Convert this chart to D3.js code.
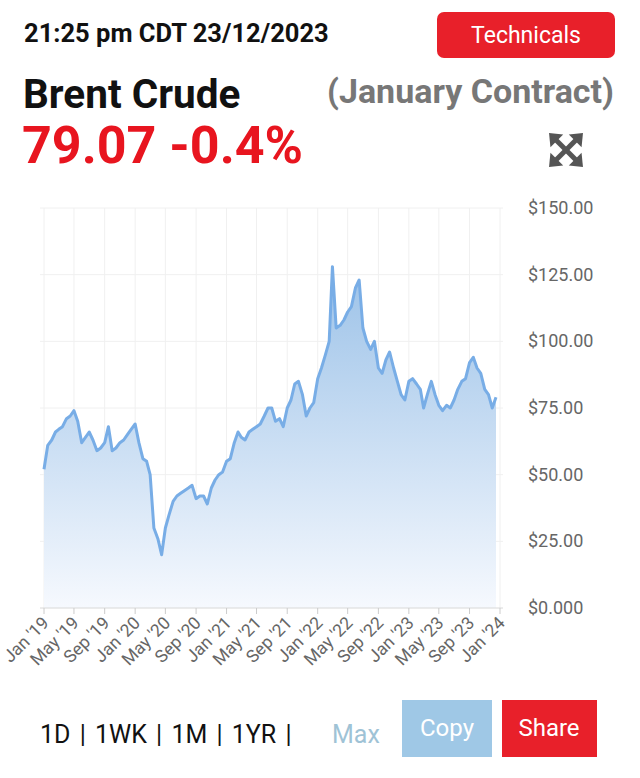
<!DOCTYPE html>
<html><head><meta charset="utf-8">
<script src="https://cdn.jsdelivr.net/npm/d3@7"></script>
<style>body{margin:0;background:#fff;font-family:Roboto,sans-serif}</style>
</head><body><svg id="c" width="640" height="778"></svg>
<script>
// semi-monthly closes Jan 2019 – Dec 2023
const prices = [
 52,61, 63,66, 67,68, 71,72, 74,70, 62,64, 66,63, 59,60, 62,68, 59,60, 62,63, 65,67,
 69,62, 56,55, 50,30, 26,20, 30,35, 40,42, 43,44, 45,46, 41,42, 42,39, 45,48, 50,51,
 55,56, 62,66, 64,63, 66,67, 68,69, 72,75, 75,70, 71,68, 75,78, 84,85, 80,72, 75,77,
 86,90, 95,100, 128,105, 106,108, 111,113, 120,123, 105,100, 97,100, 90,88, 93,96, 90,85, 80,78,
 85,86, 84,82, 75,80, 85,80, 76,74, 76,75, 78,82, 85,86, 92,94, 90,88, 82,80, 75,79
];
const yTicks = [0,25,50,75,100,125,150];
const yTickLabels = ["$0.000","$25.00","$50.00","$75.00","$100.00","$125.00","$150.00"];
const xTickDates = ["2019-01","2019-05","2019-09","2020-01","2020-05","2020-09","2021-01","2021-05","2021-09","2022-01","2022-05","2022-09","2023-01","2023-05","2023-09","2024-01"];
const xTickLabels = ["Jan '19","May '19","Sep '19","Jan '20","May '20","Sep '20","Jan '21","May '21","Sep '21","Jan '22","May '22","Sep '22","Jan '23","May '23","Sep '23","Jan '24"];

const svg = d3.select("#c");
const pm = d3.timeParse("%Y-%m");
const data = prices.map((v,i)=>({d:new Date(2019, Math.floor(i/2), i%2? 16:1), v}));
const x = d3.scaleTime().domain([new Date(2019,0,1), new Date(2024,0,1)]).range([44,500]);
const y = d3.scaleLinear().domain([0,150]).range([608,208]);

svg.append("g").selectAll("line").data(xTickDates).join("line")
 .attr("x1",d=>x(pm(d))).attr("x2",d=>x(pm(d))).attr("y1",208).attr("y2",608)
 .attr("stroke","#f0f0f0");
svg.append("g").selectAll("line").data(yTicks.slice(1)).join("line")
 .attr("x1",40).attr("x2",503).attr("y1",d=>y(d)).attr("y2",d=>y(d)).attr("stroke","#f0f0f0");

const defs = svg.append("defs");
const g = defs.append("linearGradient").attr("id","gr").attr("x1",0).attr("x2",0).attr("y1",0).attr("y2",1);
g.append("stop").attr("offset","0%").attr("stop-color","#9cc2e8");
g.append("stop").attr("offset","100%").attr("stop-color","#f6f9fe");
svg.append("path").datum(data).attr("fill","url(#gr)")
 .attr("d",d3.area().x(d=>x(d.d)).y0(608).y1(d=>y(d.v)));
svg.append("path").datum(data).attr("fill","none").attr("stroke","#78ade6").attr("stroke-width",3).attr("stroke-linejoin","round")
 .attr("d",d3.line().x(d=>x(d.d)).y(d=>y(d.v)));

svg.append("line").attr("x1",40).attr("x2",503).attr("y1",608).attr("y2",608).attr("stroke","#d8d8d8");
const xt = svg.append("g").selectAll("g").data(xTickDates).join("g").attr("transform",(d)=>`translate(${x(pm(d))},608)`);
xt.append("line").attr("y2",6).attr("stroke","#ccc");
xt.append("text").text((d,i)=>xTickLabels[i]).attr("transform","translate(6,16) rotate(-45)")
 .attr("text-anchor","end").attr("font-size",17.5).attr("fill","#666");
svg.append("g").selectAll("text").data(yTicks).join("text")
 .attr("x",528).attr("y",d=>y(d)+6).text((d,i)=>yTickLabels[i]).attr("font-size",18).attr("fill","#666");

svg.append("text").attr("x",24).attr("y",42).text("21:25 pm CDT 23/12/2023").attr("font-size",25.5).attr("font-weight","bold").attr("fill","#111");
svg.append("rect").attr("x",437).attr("y",12).attr("width",178).attr("height",46).attr("rx",7).attr("fill","#e8202a");
svg.append("text").attr("x",526).attr("y",43).attr("text-anchor","middle").text("Technicals").attr("font-size",23).attr("fill","#fff");
svg.append("text").attr("x",23).attr("y",108).text("Brent Crude").attr("font-size",40.5).attr("font-weight","bold").attr("fill","#111");
svg.append("text").attr("x",614).attr("y",103).attr("text-anchor","end").text("(January Contract)").attr("font-size",34).attr("font-weight","bold").attr("fill","#777");
svg.append("text").attr("x",22).attr("y",163).text("79.07 -0.4%").attr("font-size",52).attr("font-weight","bold").attr("fill","#e8151f");
const ic = svg.append("g").attr("transform","translate(566,150)").attr("fill","#555").attr("stroke","#555");
[45,135,225,315].forEach(a=>{
 const r = ic.append("g").attr("transform",`rotate(${a})`);
 r.append("line").attr("x1",0).attr("y1",0).attr("x2",0).attr("y2",-18).attr("stroke-width",5);
 r.append("path").attr("d","M-9,-13 L0,-24 L9,-13 Z").attr("stroke","none");
});
svg.append("text").attr("x",40).attr("y",743).text("1D | 1WK | 1M | 1YR |").attr("font-size",25).attr("fill","#111").attr("word-spacing",3);
svg.append("text").attr("x",332).attr("y",743).text("Max").attr("font-size",25).attr("fill","#9fc3d6");
svg.append("rect").attr("x",402).attr("y",700).attr("width",90).attr("height",57).attr("fill","#9fc8e6");
svg.append("text").attr("x",447).attr("y",736).attr("text-anchor","middle").text("Copy").attr("font-size",24).attr("fill","#fff");
svg.append("rect").attr("x",502).attr("y",700).attr("width",95).attr("height",57).attr("fill","#e8202a");
svg.append("text").attr("x",549).attr("y",736).attr("text-anchor","middle").text("Share").attr("font-size",24).attr("fill","#fff");
</script></body></html>
